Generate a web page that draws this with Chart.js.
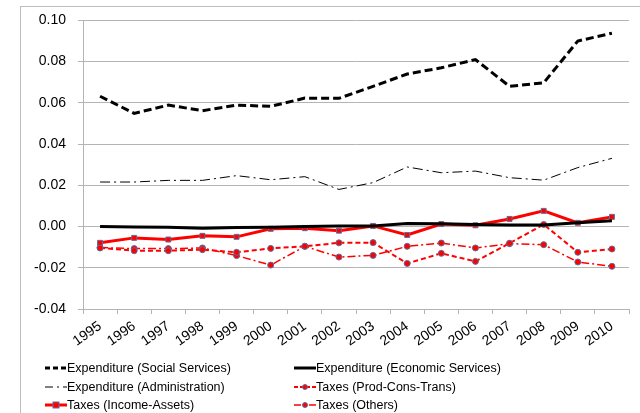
<!DOCTYPE html>
<html>
<head>
<meta charset="utf-8">
<script src="https://cdn.jsdelivr.net/npm/chart.js@4.4.1/dist/chart.umd.min.js"></script>
<style>
    html, body { margin: 0; padding: 0; background: #fff; }
    #wrap { position: relative; width: 640px; height: 413px; overflow: hidden; }
    #chart { position: absolute; left: 0; top: 0; }
    .leg { position: absolute; font-family: "Liberation Sans", Arial, sans-serif; font-size: 12.5px; color: #000; white-space: nowrap; line-height: 14px; }
    .leg svg { position: absolute; left: -22px; top: 2px; }
</style>
</head>
<body>
<div id="wrap">
    <canvas id="chart" width="640" height="413"></canvas>
    <div id="legend"></div>
</div>
<script>
    // categories
    const years = ['1995', '1996', '1997', '1998', '1999', '2000', '2001', '2002',
                   '2003', '2004', '2005', '2006', '2007', '2008', '2009', '2010'];

    // series values
    const socialServices = [0.0632, 0.0549, 0.0589, 0.0562, 0.0589, 0.0583, 0.0623, 0.0622,
                            0.0680, 0.0740, 0.0770, 0.0810, 0.0680, 0.0697, 0.0900, 0.0938];
    const economicServices = [0.0000, -0.0002, -0.0003, -0.0008, -0.0005, -0.0003, 0.0000, 0.0003,
                              0.0003, 0.0015, 0.0013, 0.0010, 0.0008, 0.0008, 0.0018, 0.0028];
    const administration = [0.0216, 0.0216, 0.0224, 0.0224, 0.0247, 0.0227, 0.0242, 0.0180,
                            0.0213, 0.0289, 0.0261, 0.0269, 0.0237, 0.0225, 0.0286, 0.0331];
    const prodConsTrans = [-0.0104, -0.0117, -0.0117, -0.0112, -0.0125, -0.0106, -0.0096, -0.0079,
                           -0.0078, -0.0179, -0.0130, -0.0169, -0.0081, 0.0010, -0.0125, -0.0109];
    const incomeAssets = [-0.0079, -0.0055, -0.0063, -0.0045, -0.0050, -0.0011, -0.0008, -0.0020,
                          0.0003, -0.0041, 0.0012, 0.0006, 0.0037, 0.0076, 0.0018, 0.0047];
    const taxesOthers = [-0.0102, -0.0107, -0.0107, -0.0104, -0.0141, -0.0187, -0.0096, -0.0148,
                         -0.0140, -0.0096, -0.0080, -0.0104, -0.0083, -0.0088, -0.0172, -0.0193];

    // y axis ticks
    const yTicks = [-0.04, -0.02, 0.00, 0.02, 0.04, 0.06, 0.08, 0.10];

    const seriesNames = ['Expenditure (Social Services)', 'Expenditure (Economic Services)',
                         'Expenditure (Administration)', 'Taxes (Prod-Cons-Trans)',
                         'Taxes (Income-Assets)', 'Taxes (Others)'];

    const red = '#ff0000';
    const markerEdge = '#5b6f9c';
    const gridColor = '#b4b4b4';
    const fontFamily = '"Liberation Sans", Arial, sans-serif';

    // gray frame round the whole chart, like Excel's chart area border
    const framePlugin = {
        id: 'frame',
        beforeDraw(chart) {
            const c = chart.ctx;
            c.save();
            c.fillStyle = '#fff';
            c.fillRect(0, 0, chart.width, chart.height);
            c.strokeStyle = '#bdbdbd';
            c.lineWidth = 1;
            c.strokeRect(20.5, 6.5, 700, 500);
            c.restore();
        }
    };

    const ctx = document.getElementById('chart');

    new Chart(ctx, {
        type: 'line',
        data: {
            labels: years,
            datasets: [
                {
                    label: seriesNames[0],
                    data: socialServices,
                    borderColor: '#000',
                    borderWidth: 3,
                    borderDash: [8, 4],
                    pointRadius: 0,
                    order: 6
                },
                {
                    label: seriesNames[1],
                    data: economicServices,
                    borderColor: '#000',
                    borderWidth: 3,
                    pointRadius: 0,
                    order: 1
                },
                {
                    label: seriesNames[2],
                    data: administration,
                    borderColor: '#000',
                    borderWidth: 1,
                    borderDash: [10, 4, 2, 4],
                    pointRadius: 0,
                    order: 5
                },
                {
                    label: seriesNames[3],
                    data: prodConsTrans,
                    borderColor: red,
                    borderWidth: 2,
                    borderDash: [5, 3],
                    pointStyle: 'circle',
                    pointRadius: 3,
                    pointBackgroundColor: red,
                    pointBorderColor: markerEdge,
                    pointBorderWidth: 1,
                    order: 3
                },
                {
                    label: seriesNames[4],
                    data: incomeAssets,
                    borderColor: red,
                    borderWidth: 3,
                    pointStyle: 'rect',
                    pointRadius: 3.5,
                    pointBackgroundColor: red,
                    pointBorderColor: markerEdge,
                    pointBorderWidth: 1,
                    order: 2
                },
                {
                    label: seriesNames[5],
                    data: taxesOthers,
                    borderColor: red,
                    borderWidth: 1.5,
                    borderDash: [8, 3, 2, 3],
                    pointStyle: 'circle',
                    pointRadius: 3,
                    pointBackgroundColor: red,
                    pointBorderColor: markerEdge,
                    pointBorderWidth: 1,
                    order: 4
                }
            ]
        },
        options: {
            responsive: false,
            animation: false,
            tension: 0,
            layout: {
                padding: { left: 0, top: 20, right: 11, bottom: 54 }
            },
            plugins: {
                legend: { display: false },
                tooltip: { enabled: false }
            },
            scales: {
                x: {
                    offset: true,
                    grid: {
                        offset: true,
                        drawOnChartArea: false,
                        drawTicks: true,
                        tickLength: 5,
                        color: gridColor
                    },
                    border: { color: gridColor },
                    ticks: {
                        minRotation: 35,
                        maxRotation: 35,
                        autoSkip: false,
                        padding: 4,
                        color: '#000',
                        font: { family: fontFamily, size: 14 }
                    },
                    afterFit: function(scale) {
                        scale.height = 50;
                    }
                },
                y: {
                    min: yTicks[0],
                    max: yTicks[yTicks.length - 1],
                    afterBuildTicks: function(scale) {
                        scale.ticks = yTicks.map(v => ({ value: v }));
                    },
                    grid: {
                        color: gridColor,
                        tickLength: 5
                    },
                    border: { color: gridColor },
                    ticks: {
                        padding: 12,
                        color: '#000',
                        font: { family: fontFamily, size: 14 },
                        callback: function(value) {
                            return value.toFixed(2);
                        }
                    },
                    afterFit: function(scale) {
                        scale.width = 83;
                    }
                }
            }
        },
        plugins: [framePlugin]
    });

    // legend in two columns, line samples drawn as small svg strokes
    function sample(color, width, dash, marker) {
        var s = '<svg width="22" height="10" xmlns="http://www.w3.org/2000/svg">';
        s += '<line x1="0" y1="5" x2="22" y2="5" stroke="' + color + '" stroke-width="' + width + '"';
        if (dash) s += ' stroke-dasharray="' + dash + '"';
        s += '/>';
        if (marker === 'circle') {
            s += '<circle cx="11" cy="5" r="2.5" fill="' + red + '" stroke="' + markerEdge + '" stroke-width="1"/>';
        } else if (marker === 'rect') {
            s += '<rect x="8" y="2" width="6" height="6" fill="' + red + '" stroke="' + markerEdge + '" stroke-width="1"/>';
        }
        return s + '</svg>';
    }

    const legendItems = [
        { x: 67,  y: 361, svg: sample('#000', 3, '5,3', null) },
        { x: 316, y: 361, svg: sample('#000', 3, null, null) },
        { x: 67,  y: 380, svg: sample('#000', 1, '8,4,2,4', null) },
        { x: 316, y: 380, svg: sample(red, 2, '4,2', 'circle') },
        { x: 67,  y: 398, svg: sample(red, 3, null, 'rect') },
        { x: 316, y: 398, svg: sample(red, 1.5, '7,3,2,3', 'circle') }
    ];

    var legendHtml = '';
    legendItems.forEach(function(item, i) {
        legendHtml += '<div class="leg" style="left:' + item.x + 'px;top:' + item.y + 'px">' +
                      item.svg + seriesNames[i] + '</div>';
    });
    document.getElementById('legend').innerHTML = legendHtml;
</script>
</body>
</html>
